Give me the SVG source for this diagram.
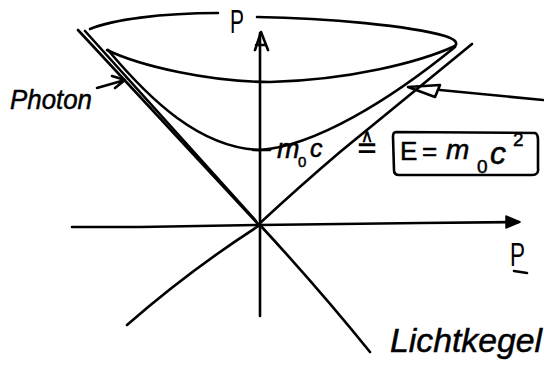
<svg xmlns="http://www.w3.org/2000/svg" width="544" height="368" viewBox="0 0 544 368">
<style>
.s{fill:none;stroke:#000;stroke-width:2.6;stroke-linecap:round;stroke-linejoin:round}
.t{font-family:"Liberation Sans","DejaVu Sans",sans-serif;font-style:italic;fill:#000;stroke:#000;stroke-width:0.5}
.u{font-family:"Liberation Sans","DejaVu Sans",sans-serif;fill:#000}
</style>
<rect width="544" height="368" fill="#fff"/>
<g id="axes">
<path class="s" d="M260,316 L260,33"/>
<path class="s" d="M255,50 L261,32 L268,50 M256,45 L266,45"/>
<path class="s" d="M72,227 L140,227 L260,225 L420,223 L519,222"/>
<path d="M506,216 L520,222 L506,228 Z" fill="#000" stroke="#000" stroke-width="1.5" stroke-linejoin="round"/>
</g>
<g id="lightcone">
<path class="s" d="M78,30 L259,225"/>
<path class="s" d="M85,31 L256,221"/>
<path class="s" d="M259,224 Q300,186 340,152 Q410,95 472,44"/>
<path class="s" d="M127,325 Q190,270 260,225"/>
<path class="s" d="M260,225 Q320,290 370,352"/>
</g>
<g id="ellipse">
<path class="s" d="M90,29 C112,20 160,13 218,13"/>
<path class="s" d="M257,17 C330,18 410,26 445,36 Q460,41 455,46"/>
<path class="s" d="M107,50 C140,66 210,82 270,82 C350,80 420,62 455,46"/>
</g>
<g id="hyperbola">
<path class="s" d="M108,50 C150,100 200,148 260,150 C315,146 390,100 455,47"/>
<path class="s" d="M253,150 L270,150" stroke-width="4"/>
</g>
<g id="photon-arrow">
<path class="s" d="M97,88 L125,80 M112,76 L125,80 L115,88"/>
</g>
<g id="right-arrow">
<path class="s" d="M543,100 L440,90"/>
<path class="s" d="M408,87 L440,85 L435,97 Z"/>
</g>
<g id="energy-box">
<path class="s" d="M396,132 L535,133 Q538,134 538,140 L538,168 Q539,175 532,175 L399,175 Q394,175 394,170 L393,137 Q393,132 396,132 Z"/>
<text class="t" font-size="26"><tspan x="400" y="160" style="font-style:normal">E</tspan><tspan x="422" y="160" style="font-style:normal">=</tspan><tspan x="446" y="159" font-size="28">m</tspan><tspan x="477" y="173" font-size="19" style="font-style:normal">0</tspan><tspan x="490" y="164" font-size="32">c</tspan><tspan x="513" y="146" font-size="19" style="font-style:normal">2</tspan></text>
</g>
<g id="labels">
<text class="u" x="230" y="33" font-size="33" textLength="14" lengthAdjust="spacingAndGlyphs">P</text>
<text class="u" x="510" y="266" font-size="33" textLength="15" lengthAdjust="spacingAndGlyphs">P</text>
<path class="s" d="M514,271 L527,273"/>
<text class="t" x="10" y="109" font-size="28" textLength="82" lengthAdjust="spacingAndGlyphs">Photon</text>
<text class="t" x="277" y="158" font-size="27">m<tspan x="298" y="167" font-size="15" style="font-style:normal">0</tspan><tspan x="310" y="157" font-size="25">c</tspan></text>
<text x="356" y="159" font-size="34" font-family="DejaVu Sans, sans-serif" textLength="22" lengthAdjust="spacingAndGlyphs">≙</text>
<text class="t" x="390" y="352" font-size="34" textLength="152" lengthAdjust="spacingAndGlyphs">Lichtkegel</text>
</g>
</svg>
